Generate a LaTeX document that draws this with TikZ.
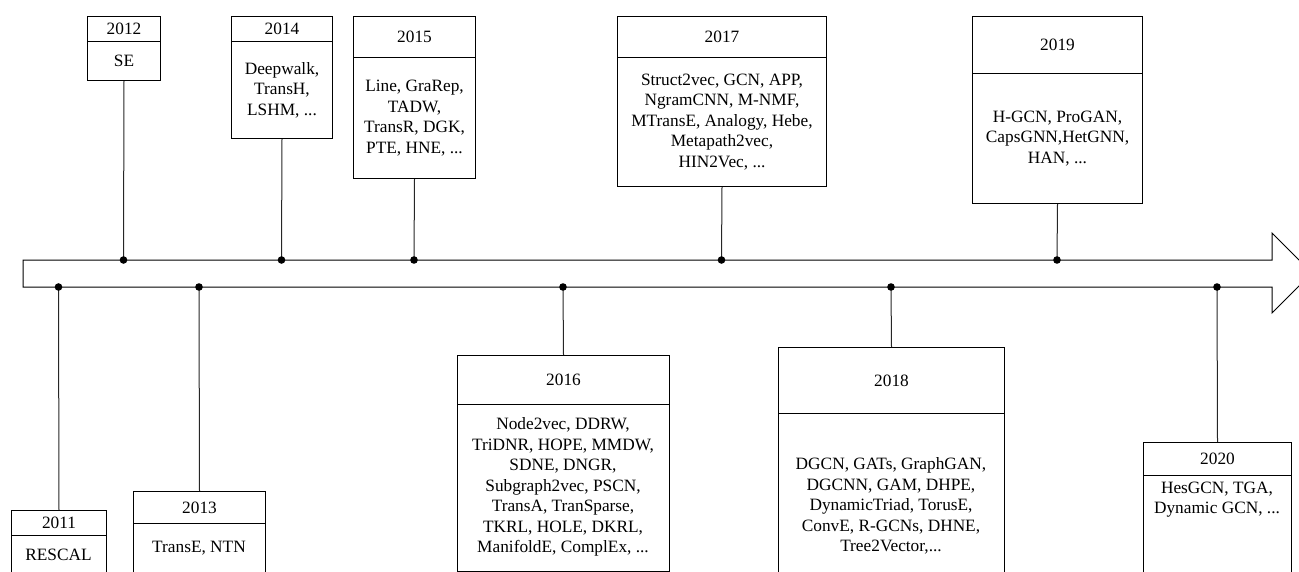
\documentclass[tikz,border=0pt]{standalone}
\usepackage{fontspec}
\setmainfont{Liberation Serif}
\newfontfamily\tlserif{Liberation Serif}
\begin{document}
\begin{tikzpicture}[x=1pt,y=-1pt,
  box/.style={draw, line width=1pt, inner sep=0pt, anchor=north west, font=\tlserif\fontsize{17.3}{20.5}\selectfont, align=center},
  txt/.style={inner sep=0pt, align=center, font=\tlserif\fontsize{17.3}{20.5}\selectfont},
  ln/.style={line width=1pt, draw=black!85},
  dot/.style={fill=black}]
\useasboundingbox (0,0) rectangle (1299,571);
\clip (0,0) rectangle (1299,571);
% top box: name x1 x2 ytop ydiv ybot year text
\newcommand{\tbox}[8]{%
  \node[box, minimum width={#3-#2}, minimum height={#5-#4}] (h#1) at (#2,#4) {#7};
  \node[box, minimum width={#3-#2}, minimum height={#6-#5}] (b#1) at (#2,#5) {#8};
}
% bottom box: name x1 x2 ytop ydiv ybot year text textcentery
\newcommand{\bbox}[9]{%
  \node[box, minimum width={#3-#2}, minimum height={#5-#4}] (h#1) at (#2,#4) {#7};
  \node[box, minimum width={#3-#2}, minimum height={#6-#5}] (b#1) at (#2,#5) {};
  \node[txt] (t#1) at ({(#2+#3)/2},#9) {#8};
}
% axis arrow
\draw[line width=1pt] (23,260) -- (1272,260) -- (1272,233) -- (1312,273) -- (1272,313) -- (1272,287) -- (23,287) -- cycle;

\tbox{2012}{87}{160}{16}{41}{80}{2012}{SE}
\tbox{2014}{231}{332}{16}{41}{138}{2014}{Deepwalk,\\TransH,\\LSHM, ...}
\tbox{2015}{353}{475}{16}{57}{178}{2015}{Line, GraRep,\\TADW,\\TransR, DGK,\\PTE, HNE, ...}
\tbox{2017}{617}{826}{16}{57}{186}{2017}{Struct2vec, GCN, APP,\\NgramCNN, M-NMF,\\MTransE, Analogy, Hebe,\\Metapath2vec,\\HIN2Vec, ...}
\tbox{2019}{972}{1142}{16}{73}{203}{2019}{H-GCN, ProGAN,\\CapsGNN,HetGNN,\\HAN, ...}

\bbox{2011}{11}{106}{510}{535}{620}{2011}{RESCAL}{555}
\bbox{2013}{133}{265}{491}{523}{620}{2013}{TransE, NTN}{548}
\bbox{2016}{457}{669}{355}{404}{571}{2016}{Node2vec, DDRW,\\TriDNR, HOPE, MMDW,\\SDNE, DNGR,\\Subgraph2vec, PSCN,\\TransA, TranSparse,\\TKRL, HOLE, DKRL,\\ManifoldE, ComplEx, ...}{487}
\bbox{2018}{778}{1004}{347}{413}{620}{2018}{DGCN, GATs, GraphGAN,\\DGCNN, GAM, DHPE,\\DynamicTriad, TorusE,\\ConvE, R-GCNs, DHNE,\\Tree2Vector,...}{506}
\bbox{2020}{1143}{1291}{442}{475}{620}{2020}{HesGCN, TGA,\\Dynamic GCN, ...}{499.5}

% connection points on the axis
\foreach \n/\x in {2012/123.5,2014/281.5,2015/414,2017/721.5,2019/1057}
  \coordinate (d\n) at (\x,260);
\foreach \n/\x in {2011/58.5,2013/199,2016/563,2018/891,2020/1217}
  \coordinate (d\n) at (\x,287);
\foreach \n in {2012,2014,2015,2017,2019}
  \draw[ln] (b\n.south) -- (d\n);
\foreach \n in {2011,2013,2016,2018,2020}
  \draw[ln] (h\n.north) -- (d\n);
\foreach \n in {2011,2012,2013,2014,2015,2016,2017,2018,2019,2020}
  \fill[dot] (d\n) circle (3.8pt);
\end{tikzpicture}
\end{document}
